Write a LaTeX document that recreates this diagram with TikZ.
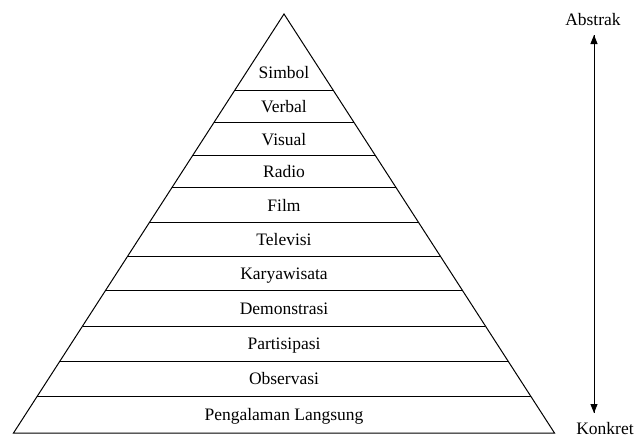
\documentclass[tikz,border=0pt]{standalone}
\usepackage{fontspec}
\setmainfont{Liberation Serif}
\usetikzlibrary{arrows.meta,calc}
\begin{document}
\begin{tikzpicture}[x=1pt,y=-1pt,line width=1pt,
  lbl/.style={font=\fontsize{17.5}{20}\selectfont,inner sep=0pt,anchor=base},
  tip/.style={-{Triangle[length=9pt,width=7pt]}}]
\useasboundingbox (0,0) rectangle (634,437);
\coordinate (apex) at (284,14);
\coordinate (bl) at (13.5,433);
\coordinate (br) at (554.5,433);
\draw[line join=miter] (bl) -- (apex) -- (br) -- cycle;
\foreach \y in {90,122.7,155.7,187.3,222.7,256.7,290.7,326,361,396}{
  \draw ($(apex)!{(\y-14)/419}!(bl)$) -- ($(apex)!{(\y-14)/419}!(br)$);
}
\node[lbl] (l1) at (284,78) {Simbol};
\foreach \n/\t/\y in {l2/Verbal/112.3, l3/Visual/145.2, l4/Radio/177.5, l5/Film/211, l6/Televisi/245.7, l7/Karyawisata/279.7, l8/Demonstrasi/314.3, l9/Partisipasi/349.5, l10/Observasi/384.5, l11/Pengalaman Langsung/420}{
  \node[lbl] (\n) at (284,\y) {\t};
}
\node[lbl] (abs) at (593,25) {Abstrak};
\node[lbl] (kon) at (605,434) {Konkret};
\coordinate (atop) at (594,35);
\coordinate (abot) at (594,413);
\draw[tip] (abot) -- (atop);
\draw[tip] (atop) -- (abot);
\end{tikzpicture}
\end{document}
